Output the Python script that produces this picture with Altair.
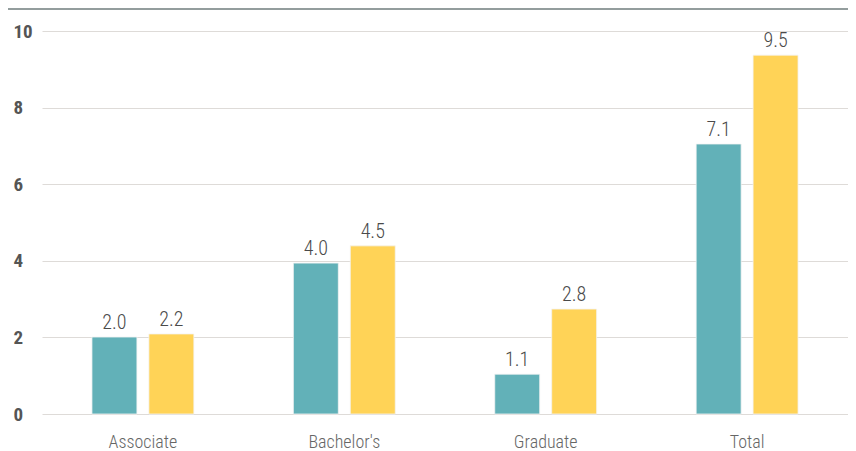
import altair as alt
import pandas as pd

categories = ["Associate", "Bachelor's", "Graduate", "Total"]
series = ["Series 1", "Series 2"]
values_1 = [2.01, 3.94, 1.04, 7.05]
values_2 = [2.09, 4.39, 2.74, 9.37]
labels_1 = ["2.0", "4.0", "1.1", "7.1"]
labels_2 = ["2.2", "4.5", "2.8", "9.5"]
y_ticks = [0, 2, 4, 6, 8, 10]
colors = ["#62b1b8", "#ffd357"]

rows = []
for c, v, l in zip(categories, values_1, labels_1):
    rows.append({"category": c, "series": series[0], "value": v, "label": l})
for c, v, l in zip(categories, values_2, labels_2):
    rows.append({"category": c, "series": series[1], "value": v, "label": l})
df = pd.DataFrame(rows)

FONT = "Roboto Condensed, Liberation Sans Narrow, Roboto, sans-serif"

x = alt.X("category:N", sort=categories, title=None,
          scale=alt.Scale(paddingInner=0.494, paddingOuter=0.248),
          axis=alt.Axis(labelAngle=0, ticks=False, domain=False, labelPadding=19,
                        labelFontSize=18, labelFontWeight=300, labelColor="#666666",
                        labelFont=FONT))
xoff = alt.XOffset("series:N", sort=series, scale=alt.Scale(paddingInner=0.21))
y = alt.Y("value:Q", title=None,
          scale=alt.Scale(domain=[0, 10], nice=False),
          axis=alt.Axis(values=y_ticks, ticks=False, tickSize=0, domain=False,
                        labelAlign="left", labelPadding=29, labelFontSize=19,
                        labelFontWeight="bold", labelColor="#555555", labelFont=FONT,
                        gridColor="#dedbd8", gridWidth=1))
color = alt.Color("series:N", sort=series, legend=None,
                  scale=alt.Scale(domain=series, range=colors))

base = alt.Chart(df)
bars = base.mark_bar(stroke="#f4f4f4", strokeWidth=0.8).encode(x=x, xOffset=xoff, y=y, color=color)
text = base.mark_text(baseline="alphabetic", dy=-8, fontSize=20, fontWeight=300,
                      color="#4a4a4a", font=FONT).encode(
    x=x, xOffset=xoff, y=y, text="label:N")
top_rule = alt.Chart(pd.DataFrame({"a": [0]})).mark_rule(color="#6f7c7c", strokeWidth=1.5).encode(
    x=alt.value(-34), x2=alt.value(806), y=alt.value(-22))

chart = alt.layer(bars, text, top_rule).properties(
    width=806, height=383,
    autosize=alt.AutoSizeParams(type="none"),
    padding={"left": 34, "top": 23, "right": 0, "bottom": 37},
).configure_view(stroke=None)

chart.save("out.html", embed_options={"renderer": "svg", "actions": False})
